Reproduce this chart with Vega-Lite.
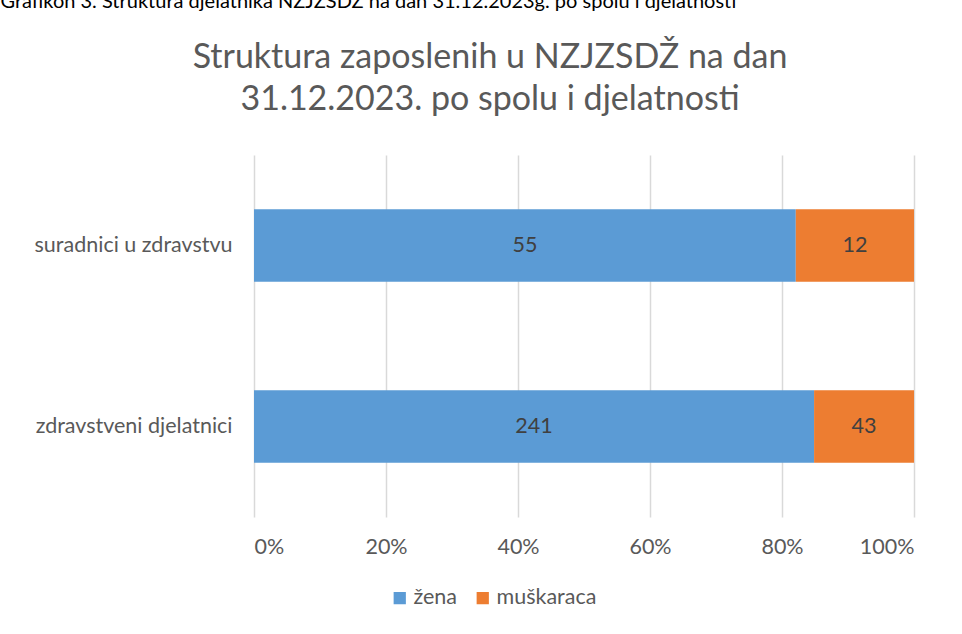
{
  "$schema": "https://vega.github.io/schema/vega-lite/v6.json",
  "width": 660,
  "height": 362,
  "autosize": {"type": "none"},
  "padding": {"left": 254, "top": 155, "right": 48, "bottom": 117},
  "background": "white",
  "title": {
    "text": ["Struktura zaposlenih u NZJZSDŽ na dan", "31.12.2023. po spolu i djelatnosti"],
    "font": "Lato",
    "fontSize": 34,
    "fontWeight": "normal",
    "color": "#595959",
    "anchor": "middle",
    "frame": "group",
    "dx": -94,
    "dy": 171,
    "offset": 45,
    "lineHeight": 42
  },
  "data": {
    "values": [
      {"djelatnost": "suradnici u zdravstvu", "spol": "žena", "broj": 55, "ord": 1},
      {"djelatnost": "suradnici u zdravstvu", "spol": "muškaraca", "broj": 12, "ord": 2},
      {"djelatnost": "zdravstveni djelatnici", "spol": "žena", "broj": 241, "ord": 1},
      {"djelatnost": "zdravstveni djelatnici", "spol": "muškaraca", "broj": 43, "ord": 2}
    ]
  },
  "encoding": {
    "y": {
      "field": "djelatnost",
      "type": "nominal",
      "sort": ["suradnici u zdravstvu", "zdravstveni djelatnici"],
      "scale": {"paddingInner": 0.6, "paddingOuter": 0.3},
      "axis": {
        "title": "Grafikon 3. Struktura djelatnika NZJZSDŽ na dan 31.12.2023g. po spolu i djelatnosti",
        "titleAngle": 0,
        "titleX": -254,
        "titleY": -148,
        "titleAlign": "left",
        "titleBaseline": "alphabetic",
        "titleFont": "Lato",
        "titleFontSize": 20,
        "titleFontWeight": "normal",
        "titleColor": "#000000",
        "domain": false,
        "ticks": false,
        "grid": false,
        "labelFont": "Lato",
        "labelFontSize": 21.5,
        "labelColor": "#595959",
        "labelPadding": 22,
        "labelLimit": 300
      }
    },
    "x": {
      "field": "broj",
      "type": "quantitative",
      "stack": "normalize",
      "scale": {"domain": [0, 1], "nice": false},
      "axis": {
        "title": null,
        "format": ".0%",
        "values": [0, 0.2, 0.4, 0.6, 0.8, 1],
        "domain": false,
        "ticks": false,
        "grid": true,
        "gridColor": "#d9d9d9",
        "gridWidth": 1.5,
        "labelFont": "Lato",
        "labelFontSize": 21.5,
        "labelColor": "#595959",
        "labelPadding": 19
      }
    },
    "order": {"field": "ord", "type": "quantitative"}
  },
  "layer": [
    {
      "mark": {"type": "bar"},
      "encoding": {
        "color": {
          "field": "spol",
          "type": "nominal",
          "scale": {"domain": ["žena", "muškaraca"], "range": ["#5B9BD5", "#ED7D31"]},
          "legend": {
            "title": null,
            "orient": "none",
            "direction": "horizontal",
            "legendX": 135,
            "legendY": 432,
            "symbolType": "square",
            "symbolSize": 150,
            "symbolStrokeWidth": 0,
            "labelFont": "Lato",
            "labelFontSize": 21.5,
            "labelColor": "#595959",
            "labelOffset": 3,
            "columnPadding": 14
          }
        }
      }
    },
    {
      "mark": {"type": "text", "font": "Lato", "fontSize": 21.5, "color": "#404040"},
      "encoding": {
        "x": {"field": "broj", "type": "quantitative", "stack": "normalize", "bandPosition": 0.5},
        "text": {"field": "broj", "type": "quantitative"}
      }
    }
  ],
  "config": {"view": {"stroke": null}}
}
